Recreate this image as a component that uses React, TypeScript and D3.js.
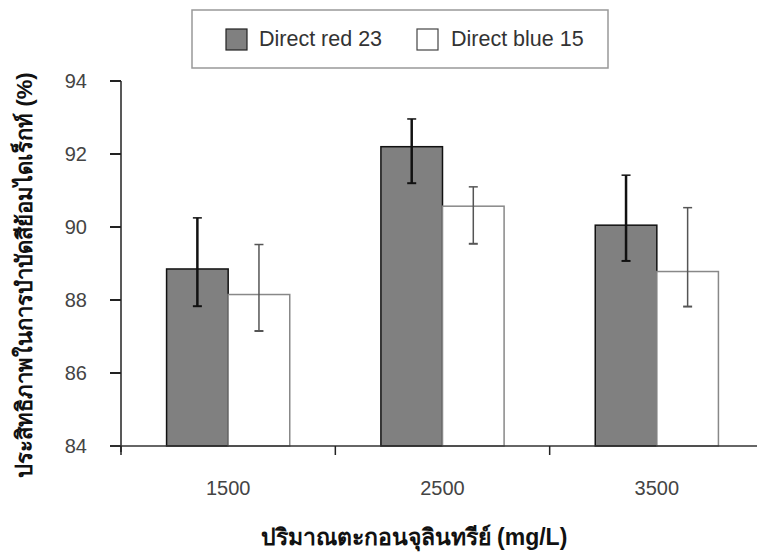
import React from 'react';
import * as d3 from 'd3';

const categories = ['1500', '2500', '3500'];
const seriesNames = ['Direct red 23', 'Direct blue 15'];
const red23 = [88.85, 92.2, 90.05];
const red23ErrUp = [1.4, 0.76, 1.37];
const red23ErrDown = [1.02, 1.0, 0.98];
const blue15 = [88.15, 90.57, 88.78];
const blue15ErrUp = [1.37, 0.53, 1.75];
const blue15ErrDown = [1.0, 1.03, 0.96];
const yTicks = [84, 86, 88, 90, 92, 94];

const W = 757;
const H = 552;
const FONT = '"Liberation Sans", Arial, sans-serif';

export default function App() {
  const x = d3.scaleBand<string>().domain(categories).range([121, 764]).padding(0);
  const xs = d3.scaleBand<string>().domain(seriesNames).range([0, x.bandwidth()]).paddingInner(0).paddingOuter(0.74);
  const y = d3.scaleLinear().domain([84, 94]).range([446, 81]);

  const series = [
    { name: seriesNames[0], vals: red23, up: red23ErrUp, down: red23ErrDown, fill: '#808080', stroke: '#111', errStroke: '#111', errW: 2.5 },
    { name: seriesNames[1], vals: blue15, up: blue15ErrUp, down: blue15ErrDown, fill: '#fff', stroke: '#888', errStroke: '#555', errW: 1.5 },
  ];

  return (
    <svg width={W} height={H} style={{ position: 'absolute', left: 0, top: 0, background: '#fff' }} fontFamily={FONT}>
      {/* legend */}
      <rect x={192} y={10} width={416} height={58} fill="#fff" stroke="#999" strokeWidth={1.5} />
      <rect x={226} y={29} width={21} height={21} fill="#808080" stroke="#222" strokeWidth={1.2} />
      <text x={259} y={46} fontSize={21.5} fill="#333">{seriesNames[0]}</text>
      <rect x={417} y={29} width={21} height={21} fill="#fff" stroke="#444" strokeWidth={1.2} />
      <text x={451} y={46} fontSize={21.5} fill="#333">{seriesNames[1]}</text>

      {/* bars */}
      {series.map((s) =>
        categories.map((c, i) => {
          const bx = x(c)! + xs(s.name)!;
          const bw = xs.bandwidth();
          const cx = bx + bw / 2;
          const yHi = y(s.vals[i] + s.up[i]);
          const yLo = y(s.vals[i] - s.down[i]);
          return (
            <g key={s.name + c}>
              <rect x={bx} y={y(s.vals[i])} width={bw} height={y(84) - y(s.vals[i])}
                fill={s.fill} stroke={s.stroke} strokeWidth={1.5} />
              <line x1={cx} x2={cx} y1={yHi} y2={yLo} stroke={s.errStroke} strokeWidth={s.errW} />
              <line x1={cx - 4.5} x2={cx + 4.5} y1={yHi} y2={yHi} stroke={s.errStroke} strokeWidth={1.5} />
              <line x1={cx - 4.5} x2={cx + 4.5} y1={yLo} y2={yLo} stroke={s.errStroke} strokeWidth={2} />
            </g>
          );
        })
      )}

      {/* y axis */}
      <line x1={121} x2={121} y1={y(94)} y2={452} stroke="#222" strokeWidth={1.5} />
      {yTicks.map((t) => (
        <g key={t}>
          <line x1={110} x2={121} y1={y(t)} y2={y(t)} stroke="#222" strokeWidth={2} />
          <text x={87} y={y(t)} dy="0.35em" textAnchor="end" fontSize={20} fill="#444">{t}</text>
        </g>
      ))}

      {/* x axis */}
      <line x1={110} x2={W} y1={y(84)} y2={y(84)} stroke="#333" strokeWidth={1.5} />
      {categories.map((c) => (
        <g key={c}>
          <line x1={x(c)!} x2={x(c)!} y1={y(84)} y2={455} stroke="#222" strokeWidth={1.5} />
          <text x={x(c)! + x.bandwidth() / 2} y={495} textAnchor="middle" fontSize={20} fill="#444">{c}</text>
        </g>
      ))}

      {/* axis titles */}
      <text x={414} y={545} textAnchor="middle" fontSize={23} fontWeight="bold" fill="#111">ปริมาณตะกอนจุลินทรีย์ (mg/L)</text>
      <text transform="translate(32,275) rotate(-90)" textAnchor="middle" fontSize={22} fontWeight="bold" fill="#111">
        ประสิทธิภาพในการบำบัดสีย้อมไดเร็กท์ (%)
      </text>
    </svg>
  );
}
